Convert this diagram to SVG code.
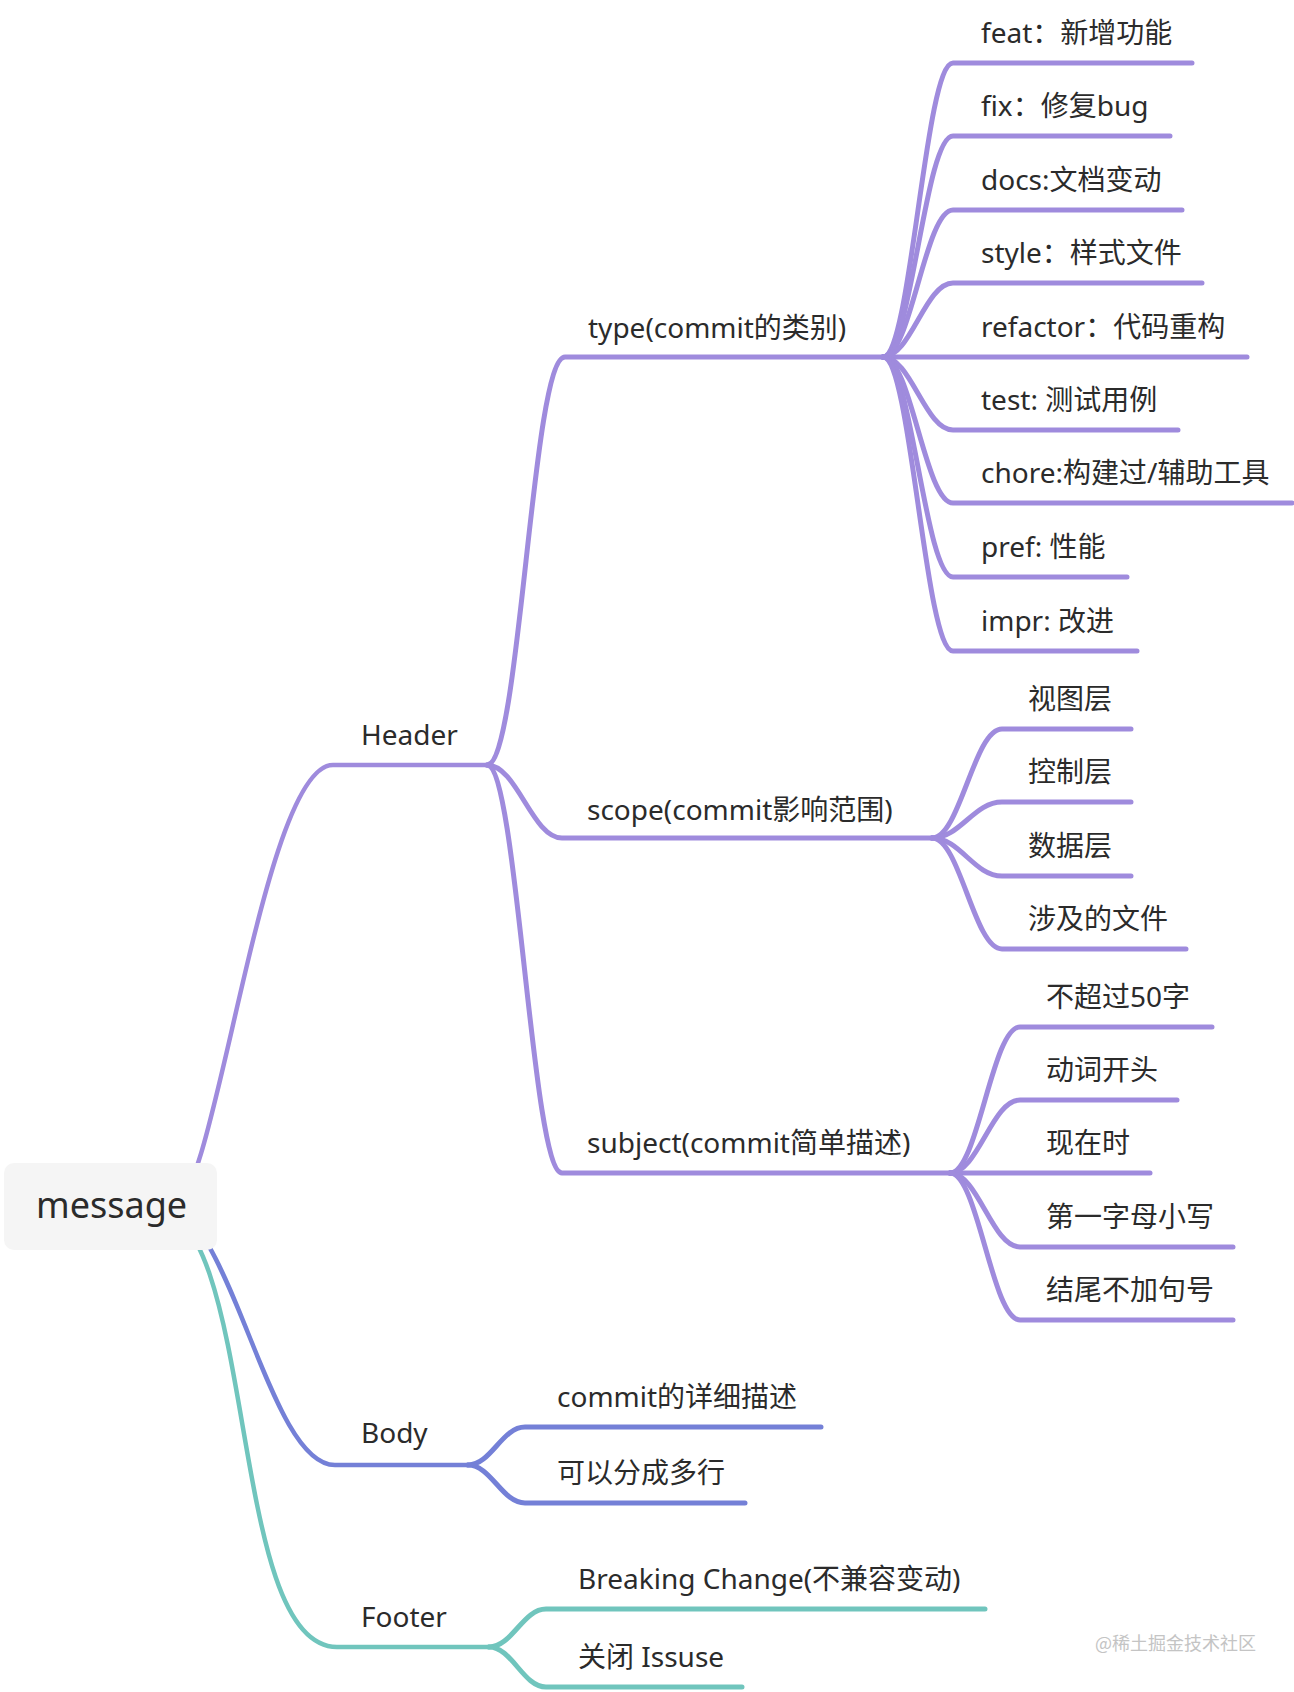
<svg xmlns="http://www.w3.org/2000/svg" width="1294" height="1692" viewBox="0 0 1294 1692">
<style>
.t{font-family:"Noto Sans","Noto Sans CJK SC",sans-serif;font-size:28px;fill:#2b2b2b}
.root{font-family:"Noto Sans","Noto Sans CJK SC",sans-serif;font-size:36px;fill:#2b2b2b}
.wm{font-family:"Noto Sans CJK SC","Noto Sans",sans-serif;font-size:18px;fill:#c4c4c4}
.c{fill:none;stroke-width:5;stroke-linecap:round;stroke-linejoin:round}
.p{stroke:#9f8bdd}
.b{stroke:#7480d7}
.g{stroke:#70c5bd}
</style>
<rect width="1294" height="1692" fill="#ffffff"/>
<g id="connectors">
  <path class="c p" style="stroke-width:4.5" d="M 173,1206 C 215,1206 262,765 333,765 H 487"/>
  <path class="c b" style="stroke-width:4.5" d="M 163,1206 C 231,1206 267,1465 335,1465 H 468"/>
  <path class="c g" style="stroke-width:4.5" d="M 150,1206 C 260,1206 225,1647 337,1647 H 489"/>
  <path class="c p" d="M 487,765 C 520,765 532,357 565,357 H 883"/>
  <path class="c p" d="M 487,765 C 517,765 532,838 562,838 H 932"/>
  <path class="c p" d="M 487,765 C 517,765 532,1173 562,1173 H 950"/>
  <path class="c p" d="M 883,357 C 911,357 925,63 953,63 H 1192"/>
  <path class="c p" d="M 883,357 C 911,357 925,136 953,136 H 1170"/>
  <path class="c p" d="M 883,357 C 911,357 925,210 953,210 H 1182"/>
  <path class="c p" d="M 883,357 C 911,357 925,283 953,283 H 1202"/>
  <path class="c p" d="M 883,357 H 1247"/>
  <path class="c p" d="M 883,357 C 911,357 925,430 953,430 H 1178"/>
  <path class="c p" d="M 883,357 C 911,357 925,503 953,503 H 1292"/>
  <path class="c p" d="M 883,357 C 911,357 925,577 953,577 H 1127"/>
  <path class="c p" d="M 883,357 C 911,357 925,651 953,651 H 1137"/>
  <path class="c p" d="M 932,838 C 960,838 974,729 1002,729 H 1131"/>
  <path class="c p" d="M 932,838 C 960,838 974,802 1002,802 H 1131"/>
  <path class="c p" d="M 932,838 C 960,838 974,876 1002,876 H 1131"/>
  <path class="c p" d="M 932,838 C 960,838 974,949 1002,949 H 1186"/>
  <path class="c p" d="M 950,1173 C 978,1173 992,1027 1020,1027 H 1212"/>
  <path class="c p" d="M 950,1173 C 978,1173 992,1100 1020,1100 H 1177"/>
  <path class="c p" d="M 950,1173 H 1150"/>
  <path class="c p" d="M 950,1173 C 978,1173 992,1247 1020,1247 H 1233"/>
  <path class="c p" d="M 950,1173 C 978,1173 992,1320 1020,1320 H 1233"/>
  <path class="c b" d="M 468,1465 C 491,1465 502,1427 525,1427 H 821"/>
  <path class="c b" d="M 468,1465 C 491,1465 502,1503 525,1503 H 745"/>
  <path class="c g" d="M 489,1647 C 512,1647 523,1609 546,1609 H 985"/>
  <path class="c g" d="M 489,1647 C 512,1647 523,1687 546,1687 H 742"/>
</g>
<g id="node-message">
  <rect x="4" y="1163" width="213" height="87" rx="10" fill="#f5f5f5"/>
  <text class="root" x="36" y="1218">message</text>
</g>
<g id="node-header"><text class="t" x="361" y="745">Header</text></g>
<g id="node-body"><text class="t" x="361" y="1443">Body</text></g>
<g id="node-footer"><text class="t" x="361" y="1627">Footer</text></g>
<g id="node-type"><text class="t" x="588" y="338">type(commit的类别)</text></g>
<g id="node-scope"><text class="t" x="587" y="820">scope(commit影响范围)</text></g>
<g id="node-subject"><text class="t" x="587" y="1153">subject(commit简单描述)</text></g>
<g id="node-feat"><text class="t" x="981" y="43">feat：新增功能</text></g>
<g id="node-fix"><text class="t" x="981" y="116">fix：修复bug</text></g>
<g id="node-docs"><text class="t" x="981" y="190">docs:文档变动</text></g>
<g id="node-style"><text class="t" x="981" y="263">style：样式文件</text></g>
<g id="node-refactor"><text class="t" x="981" y="337">refactor：代码重构</text></g>
<g id="node-test"><text class="t" x="981" y="410">test: 测试用例</text></g>
<g id="node-chore"><text class="t" x="981" y="483">chore:构建过/辅助工具</text></g>
<g id="node-pref"><text class="t" x="981" y="557">pref: 性能</text></g>
<g id="node-impr"><text class="t" x="981" y="631">impr: 改进</text></g>
<g id="node-view"><text class="t" x="1028" y="709">视图层</text></g>
<g id="node-control"><text class="t" x="1028" y="782">控制层</text></g>
<g id="node-data"><text class="t" x="1028" y="856">数据层</text></g>
<g id="node-files"><text class="t" x="1028" y="929">涉及的文件</text></g>
<g id="node-s1"><text class="t" x="1046" y="1007">不超过50字</text></g>
<g id="node-s2"><text class="t" x="1046" y="1080">动词开头</text></g>
<g id="node-s3"><text class="t" x="1046" y="1153">现在时</text></g>
<g id="node-s4"><text class="t" x="1046" y="1227">第一字母小写</text></g>
<g id="node-s5"><text class="t" x="1046" y="1300">结尾不加句号</text></g>
<g id="node-b1"><text class="t" x="557" y="1407">commit的详细描述</text></g>
<g id="node-b2"><text class="t" x="557" y="1483">可以分成多行</text></g>
<g id="node-f1"><text class="t" x="578" y="1589">Breaking Change(不兼容变动)</text></g>
<g id="node-f2"><text class="t" x="578" y="1667">关闭 Issuse</text></g>
<text class="wm" x="1095" y="1650">@稀土掘金技术社区</text>
</svg>
